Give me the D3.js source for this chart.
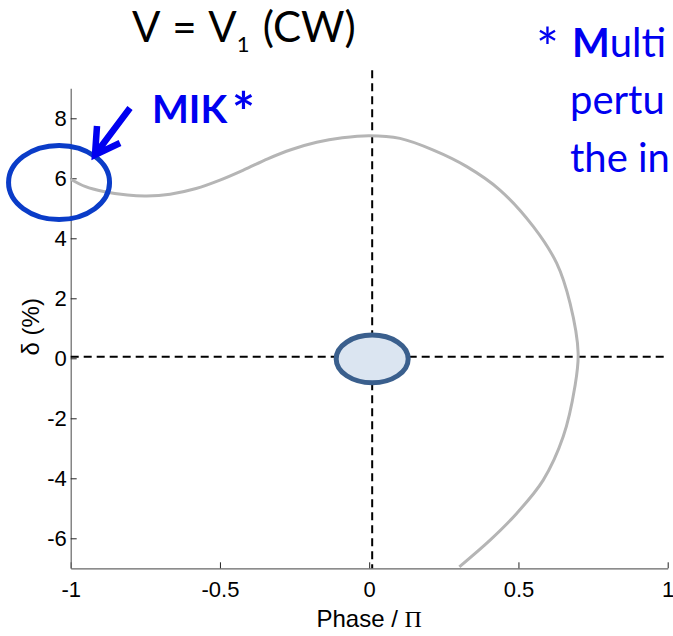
<!DOCTYPE html>
<html>
<head>
<meta charset="utf-8">
<script src="https://cdn.jsdelivr.net/npm/d3@7"></script>
<style>
  body { margin: 0; background: #fff; }
  svg { display: block; }
</style>
</head>
<body>
<div class="canvas"></div>
<script>
const phase = [-1.0, -0.95, -0.89, -0.81, -0.745, -0.667, -0.58, -0.5, -0.42, -0.34,
               -0.26, -0.176, -0.09, 0.0, 0.103, 0.215, 0.327, 0.438, 0.55, 0.628,
               0.673, 0.70, 0.689, 0.65, 0.583, 0.494, 0.405, 0.302];
const delta = [5.97, 5.72, 5.56, 5.44, 5.41, 5.47, 5.66, 5.94, 6.28, 6.65,
               6.96, 7.2, 7.35, 7.42, 7.33, 6.94, 6.39, 5.61, 4.39, 3.17,
               1.83, 0.17, -0.95, -2.61, -4.06, -5.17, -6.06, -6.95];

const xTicks = [-1, -0.5, 0, 0.5, 1];
const xTickLabels = ['-1', '-0.5', '0', '0.5', '1'];
const yTicks = [-6, -4, -2, 0, 2, 4, 6, 8];
const yTickLabels = ['-6', '-4', '-2', '0', '2', '4', '6', '8'];

const width = 673, height = 636;

const svg = d3.select('.canvas')
    .append('svg')
    .attr('width', width)
    .attr('height', height);

svg.append('rect').attr('width', width).attr('height', height).attr('fill', '#fff');

// scales
const x = d3.scaleLinear().domain([-1, 1]).range([70.7, 667.7]);
const y = d3.scaleLinear().domain([-7, 9]).range([568.3, 88.3]);

const tickFont = '"Liberation Sans", Arial, sans-serif';

// axes (matlab style, ticks pointing in, box off)
const xAxis = d3.axisBottom(x)
    .tickValues(xTicks)
    .tickFormat((d, i) => xTickLabels[i])
    .tickSizeInner(-6)
    .tickSizeOuter(0)
    .tickPadding(13);

const yAxis = d3.axisLeft(y)
    .tickValues(yTicks)
    .tickFormat((d, i) => yTickLabels[i])
    .tickSizeInner(-6)
    .tickSizeOuter(0)
    .tickPadding(4);

const xAxisGroup = svg.append('g')
    .attr('transform', `translate(0, ${y(-7)})`)
    .call(xAxis);

const yAxisGroup = svg.append('g')
    .attr('transform', `translate(${x(-1)}, 0)`)
    .call(yAxis);

[xAxisGroup, yAxisGroup].forEach(g => {
    g.select('.domain').attr('stroke', '#666').attr('stroke-width', 1.2);
    g.selectAll('.tick line').attr('stroke', '#222');
    g.selectAll('.tick text')
        .attr('fill', '#000')
        .style('font-family', tickFont)
        .style('font-size', '22px');
});

// dashed cross hair through origin
svg.append('line')
    .attr('x1', x(0.01)).attr('x2', x(0.01))
    .attr('y1', y(9.6)).attr('y2', y(-7))
    .attr('stroke', '#000').attr('stroke-width', 2)
    .attr('stroke-dasharray', '8,5');

svg.append('line')
    .attr('x1', x(-1)).attr('x2', x(1))
    .attr('y1', y(0.05)).attr('y2', y(0.05))
    .attr('stroke', '#000').attr('stroke-width', 2)
    .attr('stroke-dasharray', '8,5');

// trajectory
svg.append('clipPath').attr('id', 'plotclip')
    .append('rect')
    .attr('x', x(-1)).attr('y', y(9))
    .attr('width', x(1) - x(-1)).attr('height', y(-7) - y(9));

const pts = phase.map((p, i) => ({p: p, d: delta[i]}));
const line = d3.line()
    .x(d => x(d.p))
    .y(d => y(d.d))
    .curve(d3.curveCatmullRom);

svg.append('path')
    .datum(pts)
    .attr('clip-path', 'url(#plotclip)')
    .attr('d', line)
    .attr('fill', 'none')
    .attr('stroke', '#b5b5b5')
    .attr('stroke-width', 3);

// axis labels
svg.append('text')
    .attr('transform', `translate(39, ${y(1.05)}) rotate(-90)`)
    .attr('text-anchor', 'middle')
    .style('font-family', tickFont)
    .style('font-size', '24px')
    .text('\u03B4 (%)');

const xl = svg.append('text')
    .attr('x', x(0))
    .attr('y', 627)
    .attr('text-anchor', 'middle')
    .style('font-family', tickFont)
    .style('font-size', '24px');
xl.append('tspan').text('Phase / ');
xl.append('tspan').style('font-family', '"Liberation Serif", serif').text('\u03A0');

// stable point ellipse at origin
svg.append('ellipse')
    .attr('cx', x(0.01)).attr('cy', y(-0.02))
    .attr('rx', 36).attr('ry', 23.8)
    .attr('fill', '#dbe5f1')
    .attr('stroke', '#3a5f8d')
    .attr('stroke-width', 5);

// MIK ellipse + arrow
svg.append('ellipse')
    .attr('cx', x(-1.039)).attr('cy', y(5.86))
    .attr('rx', 50.5).attr('ry', 37)
    .attr('fill', 'none')
    .attr('stroke', '#0a3cc8')
    .attr('stroke-width', 5);

svg.append('path')
    .attr('d', 'M130,108 L97,152 M97,126 L95,155 L120,143')
    .attr('fill', 'none')
    .attr('stroke', '#0000f0')
    .attr('stroke-width', 6.5)
    .attr('stroke-linejoin', 'miter');

const calibri = 'Lato, Carlito, Calibri, sans-serif';

svg.append('text')
    .attr('x', 152).attr('y', 123)
    .attr('fill', '#0000f0')
    .style('font-family', calibri)
    .style('font-size', '39px')
    .style('font-weight', 'bold')
    .text('MIK');
svg.append('text')
    .attr('x', 232).attr('y', 131)
    .attr('fill', '#0000f0')
    .style('font-family', calibri)
    .style('font-size', '54px')
    .style('font-weight', 'bold')
    .text('*');

// title
const title = svg.append('text')
    .attr('x', 132).attr('y', 42)
    .style('font-family', calibri)
    .style('font-size', '42px')
    .style('word-spacing', '2.5px')
    .attr('fill', '#000');
title.append('tspan').text('V = V');
title.append('tspan').attr('dy', 10).style('font-size', '22px').text('1');
title.append('tspan').attr('dy', -10).text(' (CW)');

// footnote text, cut by the right edge as in the slide
const note = svg.append('g')
    .attr('fill', '#0000f0')
    .style('font-family', calibri)
    .style('font-size', '40px');

note.append('text').attr('x', 536).attr('y', 67).style('font-size', '54px').text('*');
const n1 = note.append('text').attr('x', 572).attr('y', 57);
n1.append('tspan').style('font-weight', 'bold').text('M');
n1.append('tspan').text('ulti');

note.append('text').attr('x', 570).attr('y', 114).text('pertu');
note.append('text').attr('x', 570).attr('y', 172).text('the in');
</script>
</body>
</html>
